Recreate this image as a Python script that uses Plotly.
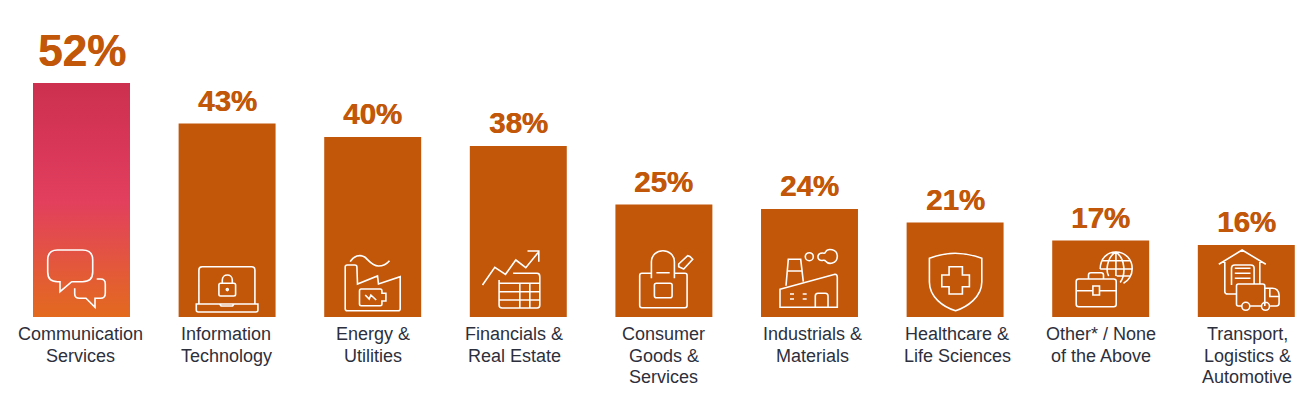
import re
import plotly.graph_objects as go

categories = ["Communication<br>Services", "Information<br>Technology", "Energy &<br>Utilities",
              "Financials &<br>Real Estate", "Consumer<br>Goods &<br>Services", "Industrials &<br>Materials",
              "Healthcare &<br>Life Sciences", "Other* / None<br>of the Above",
              "Transport,<br>Logistics &<br>Automotive"]
values = [52, 43, 40, 38, 25, 24, 21, 17, 16]
value_labels = ["52%", "43%", "40%", "38%", "25%", "24%", "21%", "17%", "16%"]
label_sizes = [44, 29.5, 29.5, 29.5, 29.5, 29.5, 29.5, 29.5, 29.5]
label_shifts = [6, 5, 5, 5, 5, 5, 5, 5, 5]
category_nudges = [-1, -1, 0, -4, 0, 3, 2, 0, 1]

ORANGE = "#C2570A"
TEXT = "#2D2F3C"
BAR_WIDTH = 0.666
LINE_STEP = 21.5


def circle(cx, cy, r):
    k = 0.5523 * r
    return (f"M {cx-r},{cy} C {cx-r},{cy-k} {cx-k},{cy-r} {cx},{cy-r} "
            f"C {cx+k},{cy-r} {cx+r},{cy-k} {cx+r},{cy} "
            f"C {cx+r},{cy+k} {cx+k},{cy+r} {cx},{cy+r} "
            f"C {cx-k},{cy+r} {cx-r},{cy+k} {cx-r},{cy} Z ")


# Decorative icons: local pixels, origin = bar centre on the baseline, y downward
icons = [
    # speech bubbles
    "M -21.5,-35.3 L -24,-35.3 Q -33.8,-35.3 -33.8,-45 L -33.8,-57 Q -33.8,-67 -24,-67 L 1,-67 "
    "Q 11.2,-67 11.2,-57 L 11.2,-45 Q 11.2,-35.3 1,-35.3 L -9.8,-35.3 L -21.5,-25.3 Z "
    "M 15.2,-38 L 19,-38 Q 23.8,-38 23.8,-33 L 23.8,-24 Q 23.8,-18.7 19,-18.7 L 13.5,-18.7 "
    "L 13.5,-9.7 L 4.5,-18.7 L -2,-18.7 Q -6.8,-18.7 -6.8,-23 L -6.8,-28.7",
    # laptop with lock
    "M -28.2,-13.7 L -28.2,-47 Q -28.2,-50.3 -25,-50.3 L 24.5,-50.3 Q 27.8,-50.3 27.8,-47 L 27.8,-13.7 "
    "M -30.8,-13 L 30.8,-13 L 30.8,-7 Q 30.8,-5 28.8,-5 L -28.8,-5 Q -30.8,-5 -30.8,-7 Z "
    "M -7.5,-13 L -6,-11 L 5.5,-11 L 6.8,-13 "
    "M -6.5,-33.7 L 6.8,-33.7 Q 8.5,-33.7 8.5,-32 L 8.5,-22.7 Q 8.5,-21 6.8,-21 L -6.5,-21 "
    "Q -8.2,-21 -8.2,-22.7 L -8.2,-32 Q -8.2,-33.7 -6.5,-33.7 Z "
    "M -4.8,-33.7 L -4.8,-37 C -4.8,-43.7 5.2,-43.7 5.2,-37 L 5.2,-33.7 " + circle(0.2, -27.4, 1),
    # factory with battery
    "M -15.8,-50 Q -15.8,-52 -18,-52 L -25.5,-52 Q -27.5,-52 -27.5,-50 L -27.5,-8.3 Q -27.5,-6.3 -25.5,-6.3 "
    "L 25.5,-6.3 Q 27.5,-6.3 27.5,-8.3 L 27.5,-40.3 L 5.8,-33 L 4.8,-41 L -15.2,-33 L -15.8,-50 "
    "M -22.5,-55.3 C -19,-61 -13,-63 -8,-60 C -4,-57 -1,-51 5.8,-51 C 10,-51 14,-53 16.8,-56.3 "
    "M -11.5,-28 L 7.5,-28 Q 9.2,-28 9.2,-26 L 9.2,-23.7 L 13.2,-23.7 L 13.2,-16 L 9.2,-16 L 9.2,-13 "
    "Q 9.2,-11.3 7.5,-11.3 L -11.5,-11.3 Q -13.2,-11.3 -13.2,-13 L -13.2,-26 Q -13.2,-28 -11.5,-28 Z "
    "M -7.5,-22 L -3.5,-18 L -1.8,-22 L 3.5,-17",
    # growth line and table
    "M -35.8,-32 L -23.5,-49.7 L -12.8,-42.7 L -2.5,-57 L 7.5,-49.3 L 20.5,-65.3 "
    "M 9.2,-66 L 20.5,-66 L 20.5,-55.3 "
    "M -5.2,-43.7 L 18.8,-43.7 Q 21.5,-43.7 21.5,-40.3 L 21.5,-12 Q 21.5,-9 18.8,-9 L -16.2,-9 "
    "Q -19.2,-9 -19.2,-12 L -19.2,-37 "
    "M -19.2,-33.7 L 21.5,-33.7 M -19.2,-25.3 L 21.5,-25.3 M -19.2,-17 L 21.5,-17 "
    "M 1.5,-33.7 L 1.5,-9 M 11.5,-33.7 L 11.5,-9",
    # shopping bag
    "M -12.5,-43.7 L -22,-43.7 Q -24.2,-43.7 -24.2,-41.5 L -24.2,-11.5 Q -24.2,-9.3 -22,-9.3 L 21,-9.3 "
    "Q 23.2,-9.3 23.2,-11.5 L 23.2,-41.5 Q 23.2,-43.7 21,-43.7 L 10.5,-43.7 "
    "M -12.5,-38.7 L -12.5,-55 C -12.5,-70 10.5,-70 10.5,-55 L 10.5,-38.7 "
    "M -7.5,-44.3 L 5.8,-44.3 "
    "M -7.5,-33.7 L 6.2,-33.7 Q 8.2,-33.7 8.2,-31.7 L 8.2,-21.3 Q 8.2,-19.3 6.2,-19.3 L -7.5,-19.3 "
    "Q -9.5,-19.3 -9.5,-21.3 L -9.5,-31.7 Q -9.5,-33.7 -7.5,-33.7 Z "
    "M 14.8,-50.3 L 14.8,-53 L 23.8,-61.3 L 26,-60.5 L 28.8,-57.7 L 19.8,-48 Z",
    # factory with smoke
    "M -29.5,-27.7 L 25.5,-42.7 Q 27.8,-42.7 27.8,-39.7 L 27.8,-9.7 L -29.5,-9.7 Z "
    "M -23.5,-31.3 L -21.2,-57.7 L -8.8,-57.7 L -6.2,-35.3 M -22.2,-46 L -7.8,-46 "
    "M 5.8,-9.7 L 5.8,-21 Q 5.8,-23.7 8.5,-23.7 L 15.8,-23.7 Q 18.5,-23.7 18.5,-21 L 18.5,-9.7 "
    "M -19.5,-23 L -15.5,-23 M -6.8,-23 L -2.8,-23 M -19.5,-18 L -15.5,-18 M -6.8,-18 L -2.8,-18 "
    + circle(-0.2, -60.3, 4) +
    "M 13,-64 C 15,-64 15.5,-63 16,-65 C 18,-69 28,-68.5 27.8,-60.5 C 27.5,-53 19,-52 16,-56 "
    "C 15,-57.5 14,-56.5 12.5,-56.5 C 7,-56.5 7,-64 13,-64 Z",
    # shield with cross
    "M -25.7,-58.7 Q -12,-63.7 0,-63.7 Q 13,-63.7 26.7,-58.7 L 26.7,-35 C 26.7,-20 12,-10 0.5,-6.3 "
    "C -12,-10 -25.7,-20 -25.7,-35 Z "
    "M -6,-50.3 L 7.3,-50.3 L 7.3,-42 L 14.3,-42 L 14.3,-30.3 L 7.3,-30.3 L 7.3,-23 L -6,-23 L -6,-30.3 "
    "L -13.3,-30.3 L -13.3,-42 L -6,-42 Z",
    # briefcase and globe
    "M -22,-38 L 13,-38 Q 15.5,-38 15.5,-35.5 L 15.5,-12.8 Q 15.5,-10.3 13,-10.3 L -22,-10.3 "
    "Q -24.5,-10.3 -24.5,-12.8 L -24.5,-35.5 Q -24.5,-38 -22,-38 Z "
    "M -12.2,-38 L -12.2,-42 Q -12.2,-44.3 -10,-44.3 L 0.5,-44.3 Q 2.8,-44.3 2.8,-42 L 2.8,-38 "
    "M -24.5,-26.3 L -7.8,-26.3 M -1.2,-26.3 L 15.5,-26.3 "
    "M -7.8,-31 L -1.2,-31 L -1.2,-22 L -7.8,-22 Z "
    "M -0.5,-48 C -0.5,-58 6,-65 15.2,-65 C 25,-65 31.5,-57 31.5,-48.5 C 31.5,-41.5 27.5,-36 22.8,-33.7 "
    "M 15.2,-65 C 6,-60 5,-46 8,-41 M 15.2,-65 C 25,-58 25,-42 19.5,-34.5 M 15.2,-65 L 15.2,-41 "
    "M 1,-56.3 L 29.3,-56.3 M -0.5,-48 L 31.5,-48 M 16,-41 L 29,-41",
    # warehouse and truck
    "M -27.5,-52.7 L -4.2,-67 L 19.5,-52.7 "
    "M -21.5,-57 L -21.5,-25.3 Q -21.5,-23 -18.2,-23 L -10.5,-23 M 13.5,-57 L 13.5,-33.7 "
    "M -14.8,-32 L -14.8,-49 Q -14.8,-52 -11.5,-52 L 4.5,-52 Q 7.8,-52 7.8,-49 L 7.8,-33.7 "
    "M -11.5,-48.7 L 4.2,-48.7 M -11.5,-43.7 L 4.2,-43.7 M -11.5,-38.7 L 4.2,-38.7 "
    "M -5,-11 L -8,-11 Q -9.8,-11 -9.8,-13 L -9.8,-31 Q -9.8,-33 -8,-33 L 16.5,-33 Q 18.5,-33 18.5,-31 L 18.5,-11 "
    "M 4,-11 L 15,-11 M 24,-11 L 30,-11 Q 32.8,-11 32.8,-14 L 32.8,-22 Q 32,-28.7 26,-28.7 L 18.5,-28.7 "
    "M 23.5,-28.7 L 23.5,-20.5 L 32.8,-20.5 "
    + circle(-0.5, -10.7, 4) + circle(19.2, -10.7, 4),
]


def to_plotly_pixels(path):
    """Flip y so the icon path can be used with pixel sizing (y upward)."""
    return re.sub(r"(-?\d+(?:\.\d+)?),(-?\d+(?:\.\d+)?)",
                  lambda m: f"{float(m.group(1)):.2f},{-float(m.group(2)):.2f}", path)


xs = list(range(len(values)))

fig = go.Figure()
fig.add_trace(go.Bar(x=xs, y=values, width=BAR_WIDTH, marker=dict(color=ORANGE, line_width=0),
                     hoverinfo="x+y"))
half = BAR_WIDTH / 2
fig.add_trace(go.Scatter(
    x=[xs[0] - half, xs[0] + half, xs[0] + half, xs[0] - half, xs[0] - half],
    y=[0, 0, values[0], values[0], 0],
    mode="lines", line=dict(width=0), fill="toself", hoverinfo="skip",
    fillgradient=dict(type="vertical", start=0, stop=values[0],
                      colorscale=[[0, "#E36A1E"], [0.25, "#E35540"], [0.5, "#E23F5E"],
                                  [0.75, "#D83657"], [1, "#CC304E"]]),
))

annotations = []
for i, (v, lab, sz, sh) in enumerate(zip(values, value_labels, label_sizes, label_shifts)):
    annotations.append(dict(x=i, y=v, xref="x", yref="y", text=lab, showarrow=False,
                            xanchor="center", yanchor="bottom", yshift=sh,
                            font=dict(family="Liberation Sans", size=sz, color=ORANGE, weight="bold",
                                      shadow=f"0.5px 0 0 {ORANGE}")))
for i, cat in enumerate(categories):
    for n, line in enumerate(cat.split("<br>")):
        annotations.append(dict(x=i, y=0, xref="x", yref="y", text=line, showarrow=False,
                                xanchor="center", yanchor="top", yshift=-5 - n * LINE_STEP,
                                xshift=category_nudges[i],
                                font=dict(family="Liberation Sans", size=18, color=TEXT)))

shapes = [dict(type="path", xsizemode="pixel", ysizemode="pixel", xref="x", yref="y",
               xanchor=i, yanchor=0, path=to_plotly_pixels(p),
               line=dict(color="white", width=1.6), layer="above")
          for i, p in enumerate(icons)]

fig.update_layout(
    width=1315, height=393, autosize=False, showlegend=False,
    margin=dict(l=0, r=0, t=0, b=76, pad=0),
    paper_bgcolor="white", plot_bgcolor="white", shapes=shapes, annotations=annotations,
    xaxis=dict(range=[-81.5 / 145.6, (1315 - 81.5) / 145.6], tickmode="array", tickvals=xs,
               showticklabels=False, showgrid=False, zeroline=False, showline=False, ticks=""),
    yaxis=dict(range=[0, 317 / 4.5], visible=False, fixedrange=True),
)
fig.write_html("out.html", config=dict(displayModeBar=False),
               post_script="document.body.style.margin='0';")
